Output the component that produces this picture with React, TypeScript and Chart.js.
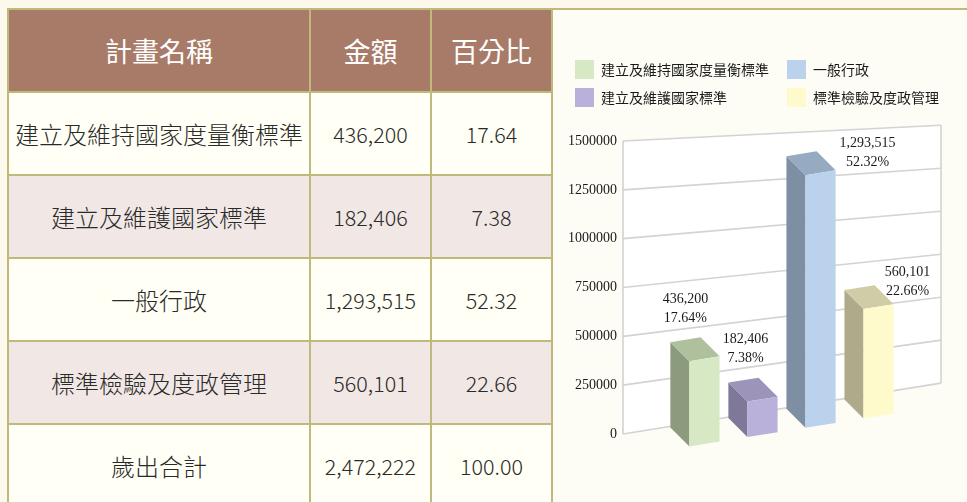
import React, { useEffect, useRef } from "react";
import { Chart, registerables } from "chart.js";

Chart.register(...registerables);

// ---------------- data ----------------
const tableHeaders = ["計畫名稱", "金額", "百分比"];
const planNames = ["建立及維持國家度量衡標準", "建立及維護國家標準", "一般行政", "標準檢驗及度政管理"];
const amounts = [436200, 182406, 1293515, 560101];
const percents = [17.64, 7.38, 52.32, 22.66];
const totalName = "歲出合計";
const totalAmount = 2472222;
const totalPercent = 100.0;
const yTicks = [0, 250000, 500000, 750000, 1000000, 1250000, 1500000];

// ---------------- styles ----------------
const frontColors = ["#d7e9c4", "#b9b1d9", "#bad2ec", "#fffacb"];
const sideColors = ["#8c9b7d", "#7f7898", "#7f8fa3", "#aeab8b"];
const topColors = ["#afc09d", "#9c94b9", "#96aac1", "#d0cca7"];
const labelOffsets = [
  [0, 0],
  [2, 0],
  [66, 30],
  [48, 25],
];

const PAGE_BG = "#fdf8ec";
const PANEL_BG = "#fdfdf5";
const BORDER = "#bfba7c";
const HEAD_BG = "#a87b69";
const ROW_WHITE = "#fffff6";
const ROW_PINK = "#f1e8e6";

const fmt = (n: number) => n.toLocaleString("en-US");

const DEPTH_X = -19;
const DEPTH_Y = -19;
const FLOOR_SLOPE = 0.16;
const FRONT_DROP = 23;
const RIGHT_SCALE = 0.88;

const bar3dPlugin = {
  id: "bar3d",
  beforeDatasetsDraw(chart: any) {
    const { ctx, chartArea } = chart;
    const yScale = chart.scales.y;
    const left = chartArea.left;
    const right = chartArea.right;
    const bottom = yScale.getPixelForValue(0);
    const W = right - left;
    const rightY = (p: number) => bottom - FLOOR_SLOPE * W - (bottom - p) * RIGHT_SCALE;
    const topP = yScale.getPixelForValue(yTicks[yTicks.length - 1]);
    ctx.save();
    ctx.fillStyle = "#ffffff";
    ctx.beginPath();
    ctx.moveTo(left, topP);
    ctx.lineTo(right, rightY(topP));
    ctx.lineTo(right, rightY(bottom));
    ctx.lineTo(left, bottom);
    ctx.closePath();
    ctx.fill();
    ctx.strokeStyle = "#d3d3d3";
    ctx.lineWidth = 1.6;
    for (const v of yTicks) {
      const p = yScale.getPixelForValue(v);
      ctx.beginPath();
      ctx.moveTo(left, p);
      ctx.lineTo(right, rightY(p));
      ctx.stroke();
    }
    ctx.beginPath();
    ctx.moveTo(left, topP);
    ctx.lineTo(left, bottom);
    ctx.moveTo(right, rightY(topP));
    ctx.lineTo(right, rightY(bottom));
    ctx.stroke();
    ctx.restore();
  },
  afterDatasetsDraw(chart: any) {
    const { ctx, chartArea } = chart;
    const left = chartArea.left;
    const bottom = chart.scales.y.getPixelForValue(0);
    const floorY = (x: number) => bottom + FRONT_DROP - FLOOR_SLOPE * (x - left);
    ctx.save();
    chart.data.datasets.forEach((ds: any, i: number) => {
      const meta = chart.getDatasetMeta(i);
      const el = meta.data[0];
      if (!el) return;
      const { x, y, base, width } = el.getProps(["x", "y", "base", "width"], true);
      const h = base - y;
      const fx0 = x - width / 2 - DEPTH_X / 2;
      const fx1 = fx0 + width;
      const FLB = [fx0, floorY(fx0)];
      const FRB = [fx1, floorY(fx1)];
      const FLT = [fx0, floorY(fx0) - h];
      const FRT = [fx1, floorY(fx1) - h];
      const off = (p: number[]) => [p[0] + DEPTH_X, p[1] + DEPTH_Y];
      const poly = (pts: number[][], color: string) => {
        ctx.fillStyle = color;
        ctx.beginPath();
        ctx.moveTo(pts[0][0], pts[0][1]);
        for (let k = 1; k < pts.length; k++) ctx.lineTo(pts[k][0], pts[k][1]);
        ctx.closePath();
        ctx.fill();
      };
      poly([FLB, FLT, off(FLT), off(FLB)], sideColors[i]);
      poly([FLT, FRT, off(FRT), off(FLT)], topColors[i]);
      poly([FLB, FRB, FRT, FLT], frontColors[i]);

      // value labels
      const lo = labelOffsets[i];
      const cx = fx0 + width / 2 + DEPTH_X + lo[0];
      const line2 = FLT[1] + DEPTH_Y - 24 + lo[1];
      ctx.fillStyle = "#1a1a1a";
      ctx.font = "14px 'Liberation Serif', 'Times New Roman', serif";
      ctx.textAlign = "center";
      ctx.textBaseline = "middle";
      ctx.fillText(fmt(amounts[i]), cx, line2 - 19);
      ctx.fillText(percents[i].toFixed(2) + "%", cx, line2);
    });

    // legend (column-major, two rows)
    const LX = 22, LY = 50, COLW = 212, ROWH = 28, BOX = 19;
    chart.data.datasets.forEach((ds: any, i: number) => {
      const col = Math.floor(i / 2);
      const row = i % 2;
      const bx = LX + col * COLW;
      const by = LY + row * ROWH;
      ctx.fillStyle = frontColors[i];
      ctx.fillRect(bx, by, BOX, BOX);
      ctx.fillStyle = "#1a1a1a";
      ctx.font = "14px 'Noto Sans CJK TC', sans-serif";
      ctx.textAlign = "left";
      ctx.textBaseline = "middle";
      ctx.fillText(ds.label, bx + BOX + 7, by + BOX / 2 + 0.5);
    });
    ctx.restore();
  },
};

function BarChart() {
  const ref = useRef<HTMLCanvasElement | null>(null);
  useEffect(() => {
    if (!ref.current) return;
    const chart = new Chart(ref.current, {
      type: "bar",
      data: {
        labels: [""],
        datasets: planNames.map((name, i) => ({
          label: name,
          data: [amounts[i]],
          backgroundColor: "rgba(0,0,0,0)",
          borderWidth: 0,
          categoryPercentage: 0.73,
          barPercentage: 0.52,
        })),
      },
      options: {
        animation: false,
        responsive: false,
        devicePixelRatio: 1,
        layout: { padding: { left: 0, top: 131, right: 26, bottom: 68 } },
        plugins: { legend: { display: false }, tooltip: { enabled: false } },
        scales: {
          x: { display: false },
          y: {
            min: 0,
            max: 1500000,
            afterBuildTicks: (s: any) => {
              s.ticks = yTicks.map((v) => ({ value: v }));
            },
            afterFit: (s: any) => {
              s.width = 70;
            },
            grid: { display: false, drawTicks: false },
            border: { display: false },
            ticks: {
              font: { family: "'Liberation Serif', 'Times New Roman', serif", size: 14 },
              color: "#1a1a1a",
              padding: 6,
              callback: (v: any) => String(v),
            },
          },
        },
      } as any,
      plugins: [bar3dPlugin],
    });
    return () => chart.destroy();
  }, []);
  return <canvas ref={ref} width={414} height={492} style={{ width: 414, height: 492, display: "block" }} />;
}

const cjk = "'Noto Sans CJK TC', 'Noto Sans', sans-serif";

function Cell({ children, bg, color, size, weight, spacing }: any) {
  return (
    <div
      style={{
        background: bg,
        color: color || "#2a2a2a",
        fontSize: size,
        fontWeight: weight || 400,
        letterSpacing: spacing || 0,
        display: "flex",
        alignItems: "center",
        justifyContent: "center",
        fontFamily: cjk,
        whiteSpace: "nowrap",
        overflow: "hidden",
      }}
    >
      {children}
    </div>
  );
}

export default function App() {
  const rows = planNames.map((n, i) => ({ name: n, amount: fmt(amounts[i]), pct: percents[i].toFixed(2) }));
  rows.push({ name: totalName, amount: fmt(totalAmount), pct: totalPercent.toFixed(2) });
  return (
    <div
      style={{
        position: "absolute",
        left: 0,
        top: 0,
        width: 967,
        height: 502,
        overflow: "hidden",
        background: PAGE_BG,
      }}
    >
      <div
        style={{
          position: "absolute",
          left: 7,
          top: 8,
          display: "grid",
          gridTemplateColumns: "300px 119px 119px",
          gridAutoRows: "81px",
          gap: 2,
          padding: 2,
          background: BORDER,
        }}
      >
        {tableHeaders.map((h) => (
          <Cell key={h} bg={HEAD_BG} color="#ffffff" size={27} weight={400}>
            {h}
          </Cell>
        ))}
        {rows.map((r, i) => {
          const bg = i % 2 === 1 ? ROW_PINK : ROW_WHITE;
          return (
            <React.Fragment key={r.name}>
              <Cell bg={bg} size={24} weight={300}>{r.name}</Cell>
              <Cell bg={bg} size={21.5} weight={300}>{r.amount}</Cell>
              <Cell bg={bg} size={21.5} weight={300}>{r.pct}</Cell>
            </React.Fragment>
          );
        })}
      </div>
      <div
        style={{
          position: "absolute",
          left: 551,
          top: 8,
          width: 416,
          height: 494,
          background: BORDER,
        }}
      >
        <div style={{ position: "absolute", left: 2, top: 2, width: 414, height: 492, background: PANEL_BG }}>
          <BarChart />
        </div>
      </div>
    </div>
  );
}
